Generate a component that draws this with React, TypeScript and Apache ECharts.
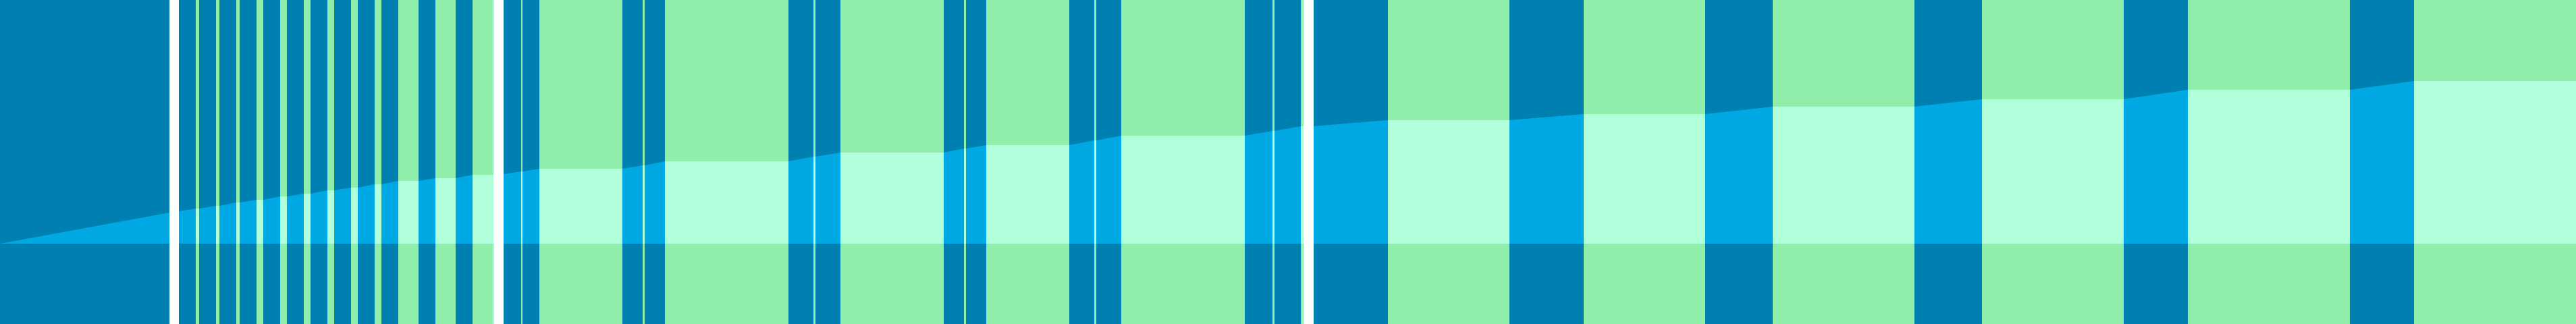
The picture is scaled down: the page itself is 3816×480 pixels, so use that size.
import React, { useEffect, useRef } from "react";
import * as echarts from "echarts";

// band boundaries along x, one more than the bands
const edges = [
  0, 251, 265, 290, 295, 320, 325, 350, 355, 380, 390, 415, 425, 450, 460, 485,
  495, 520, 530, 555, 565, 590, 620, 645, 675, 700, 731, 746, 772, 774, 799,
  922, 952, 955, 985, 1168, 1205, 1208, 1245, 1398, 1428, 1431, 1461, 1584,
  1621, 1624, 1661, 1844, 1885, 1888, 1927, 1931, 1946, 2056, 2236, 2346, 2526,
  2626, 2836, 2936, 3146, 3241, 3481, 3576, 3816,
];

// kind of each band: d = dark, l = light, g = gap
const kinds = [
  "d", "g", "d", "l", "d", "l", "d", "l", "d", "l", "d", "l", "d", "l", "d", "l",
  "d", "l", "d", "l", "d", "l", "d", "l", "d", "l", "g", "d", "l", "d", "l",
  "d", "l", "d", "l", "d", "l", "d", "l", "d", "l", "d", "l",
  "d", "l", "d", "l", "d", "l", "d", "l", "g", "d", "l", "d", "l",
  "d", "l", "d", "l", "d", "l", "d", "l",
];

// cumulative level at each edge
const levels = [
  0, 46, 48, 52, 52, 56, 56, 61, 61, 65, 65, 70, 70, 74, 74, 79,
  79, 83, 83, 88, 88, 93, 93, 97, 97, 102, 102, 103, 107, 107, 111,
  111, 116, 116, 122, 122, 129, 129, 135, 135, 141, 141, 146, 146,
  153, 153, 160, 160, 167, 167, 174, 174, 174, 183, 183, 192, 192,
  203, 203, 214, 214, 228, 228, 241, 241,
];

const bandColor: Record<string, string> = { d: "#0080b0", l: "#8eeeaa", g: "#ffffff" };
const fillColor: Record<string, string> = { d: "#00a8e4", l: "#b2ffdc", g: "#ffffff" };

const App: React.FC = () => {
  const chartRef = useRef<HTMLDivElement>(null);

  useEffect(() => {
    if (!chartRef.current) return;
    const chart = echarts.init(chartRef.current, undefined, { renderer: "svg" });

    const bands = kinds.map((k, i) => [edges[i], edges[i + 1], levels[i], levels[i + 1], i]);

    const option = {
      animation: false,
      grid: { left: 0, right: 0, top: 0, bottom: 0 },
      xAxis: { type: "value", min: 0, max: 3816, show: false },
      yAxis: { type: "value", min: -119, max: 361, show: false },
      series: [
        {
          type: "custom",
          data: bands,
          renderItem: (params: any, api: any) => {
            const x0 = api.value(0);
            const x1 = api.value(1);
            const v0 = api.value(2);
            const v1 = api.value(3);
            const k = kinds[api.value(4)];
            const cs = params.coordSys;
            const b0 = api.coord([x0, 0]);
            const b1 = api.coord([x1, 0]);
            const t0 = api.coord([x0, v0]);
            const t1 = api.coord([x1, v1]);
            return {
              type: "group",
              children: [
                {
                  type: "rect",
                  shape: { x: b0[0], y: cs.y, width: b1[0] - b0[0], height: cs.height },
                  style: { fill: bandColor[k] },
                },
                {
                  type: "polygon",
                  shape: { points: [[b0[0], b0[1]], [t0[0], t0[1]], [t1[0], t1[1]], [b1[0], b1[1]]] },
                  style: { fill: fillColor[k] },
                },
              ],
            };
          },
        },
      ],
    };

    chart.setOption(option);
    return () => chart.dispose();
  }, []);

  return (
    <div
      ref={chartRef}
      style={{ position: "fixed", left: 0, top: 0, width: 3816, height: 480 }}
    />
  );
};

export default App;
